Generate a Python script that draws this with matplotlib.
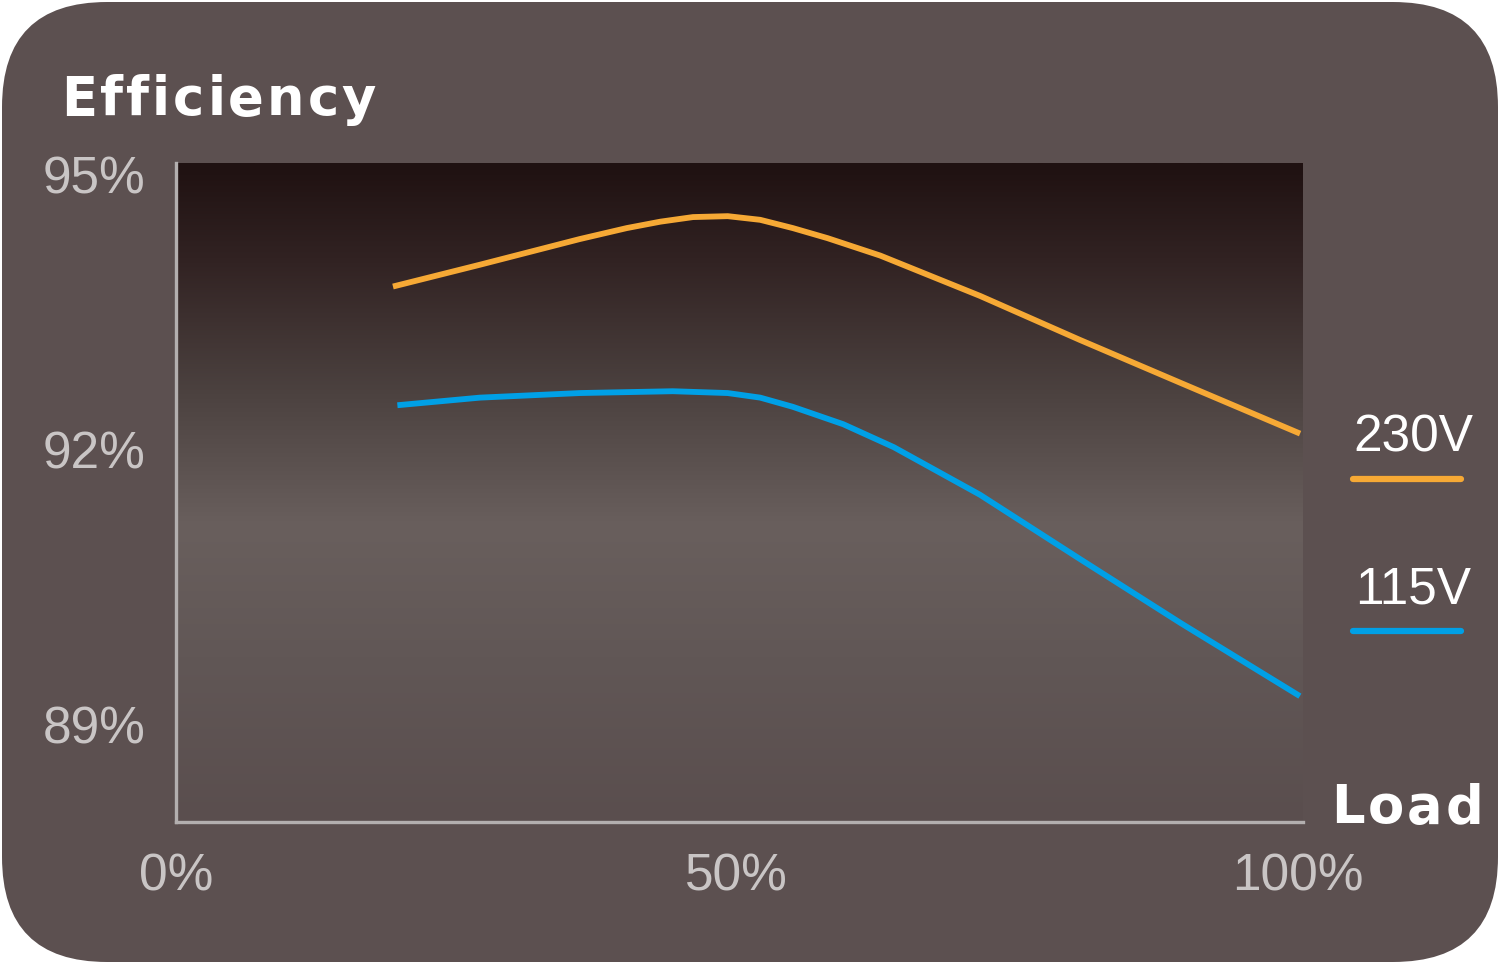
# Efficiency vs load chart, dark card style

import matplotlib
matplotlib.use('Agg')
import matplotlib.pyplot as plt
import numpy as np
from matplotlib.patches import FancyBboxPatch
from matplotlib.colors import LinearSegmentedColormap

# Data (load %, efficiency %)
load_230 = [19.6, 27.1, 36.0, 40.2, 43.2, 46.1, 49.2, 52.1, 55.0, 58.1,
            62.8, 71.7, 80.6, 89.6, 100.0]
eff_230 = [93.79, 94.02, 94.30, 94.42, 94.49, 94.54, 94.55, 94.51, 94.42, 94.31,
           94.12, 93.68, 93.20, 92.73, 92.19]

load_115 = [20.0, 27.1, 36.0, 44.3, 49.2, 52.1, 55.0, 59.5, 64.0, 71.7,
            80.6, 89.6, 100.0]
eff_115 = [92.49, 92.57, 92.62, 92.64, 92.62, 92.57, 92.47, 92.28, 92.03, 91.51,
           90.81, 90.11, 89.33]

x_ticks = [0, 50, 100]
x_labels = ['0%', '50%', '100%']
y_ticks = [89, 92, 95]
y_labels = ['89%', '92%', '95%']

series_names = ['230V', '115V']
series_colors = ['#f6a935', '#00a0e6']

card_color = '#5c5050'
label_grey = '#c9c5c5'
spine_grey = '#b3afaf'

W, H = 1500, 964
fig = plt.figure(figsize=(15, 9.64), dpi=100, facecolor='white')
renderer = fig.canvas.get_renderer()


def spaced_text(ax, x, y, s, spacing, **kw):
    """Draw s from x with extra pixels of spacing between letters."""
    for i, ch in enumerate(s):
        if i == 0:
            offset = 0
        else:
            probe = ax.text(0, 0, s[:i], **kw)
            offset = probe.get_window_extent(renderer).width
            probe.remove()
        ax.text(x + offset + i * spacing, y, ch, ha='left', va='baseline', **kw)


# Card background with rounded corners, in pixel units
bg = fig.add_axes([0, 0, 1, 1], zorder=0)
bg.set_xlim(0, W)
bg.set_ylim(0, H)
bg.axis('off')
card = FancyBboxPatch((2, 2), W - 4, H - 4,
                      boxstyle='round,pad=0,rounding_size=105',
                      facecolor=card_color, edgecolor='none')
bg.add_patch(card)

# Chart labels
title_kw = dict(color='white', fontsize=38, fontweight='bold', family='DejaVu Sans')
spaced_text(bg, 61, H - 115, 'Efficiency', 3.0, **title_kw)
spaced_text(bg, 1331, H - 823, 'Load', 3.0, **title_kw)

# Legend drawn by hand at the right
legend_text_y = [451, 604]
legend_line_y = [479, 631]
for name, col, ty, ly in zip(series_names, series_colors, legend_text_y, legend_line_y):
    bg.text(1413, H - ty, name, color='white', fontsize=37,
            family='Liberation Sans', ha='center', va='baseline')
    bg.plot([1353, 1461], [H - ly, H - ly], color=col, lw=4.5,
            solid_capstyle='round')

# Plot area
ax = fig.add_axes([176 / W, 1 - 822 / H, 1127 / W, 659 / H], zorder=1)
ax.set_xlim(0, 100.5)
ax.set_ylim(87.94, 95.13)

grad = LinearSegmentedColormap.from_list('card_grad', [
    (0.0, '#1f1111'),
    (0.15, '#322323'),
    (0.35, '#4c4240'),
    (0.55, '#695f5d'),
    (0.75, '#615756'),
    (1.0, '#5a4e4e'),
])
ax.imshow(np.linspace(0, 1, 256).reshape(-1, 1), cmap=grad, aspect='auto',
          extent=[0, 100.5, 87.94, 95.13], origin='upper', zorder=0)

ax.plot(load_230, eff_230, color=series_colors[0], lw=4.2, zorder=3,
        solid_joinstyle='round')
ax.plot(load_115, eff_115, color=series_colors[1], lw=4.2, zorder=3,
        solid_joinstyle='round')

for side in ['top', 'right']:
    ax.spines[side].set_visible(False)
for side in ['left', 'bottom']:
    ax.spines[side].set_color(spine_grey)
    ax.spines[side].set_linewidth(2.4)

ax.set_xticks(x_ticks)
ax.set_xticklabels(x_labels)
ax.set_yticks(y_ticks)
ax.set_yticklabels(y_labels)
ax.tick_params(length=0, colors=label_grey, labelsize=37)
ax.tick_params(axis='x', pad=22)
ax.tick_params(axis='y', pad=22)
for lab in ax.get_xticklabels() + ax.get_yticklabels():
    lab.set_family('Liberation Sans')

fig.savefig('out.png', dpi=100, facecolor='white')
